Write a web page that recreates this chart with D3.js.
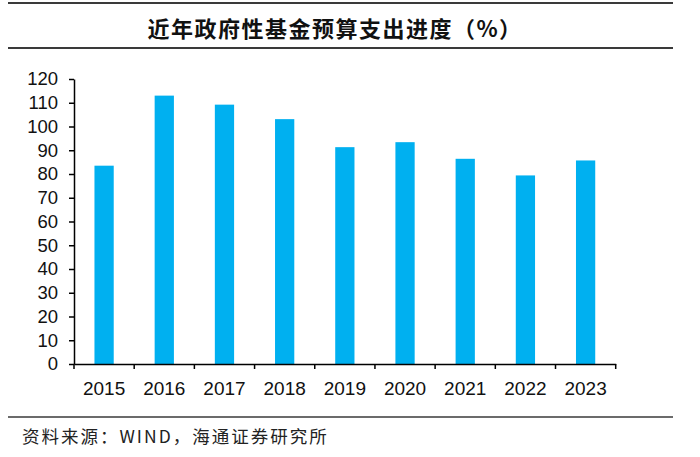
<!DOCTYPE html>
<html><head><meta charset="utf-8">
<script src="https://cdn.jsdelivr.net/npm/d3@7"></script>
<style>body{margin:0;background:#fff}svg{display:block}</style>
</head><body>
<script>
const title = "近年政府性基金预算支出进度（%）";
const source = "资料来源：WIND，海通证券研究所";
const years = ["2015","2016","2017","2018","2019","2020","2021","2022","2023"];
const values = [83.5, 113.0, 109.2, 103.1, 91.3, 93.4, 86.4, 79.4, 85.7];
const yTicks = [0,10,20,30,40,50,60,70,80,90,100,110,120];

const W = 700, H = 457;
const m = {left: 74, right: 615.7, top: 79, bottom: 364};
const svg = d3.select("body").append("svg").attr("width", W).attr("height", H);

// frame lines
const lineColor = "#3a3a3a";
[3, 48, 417].forEach(y => {
  svg.append("line").attr("x1", 8).attr("x2", 673).attr("y1", y).attr("y2", y)
    .attr("stroke", lineColor).attr("stroke-width", y === 417 ? 1.6 : 2);
});

svg.append("text").attr("x", 335).attr("y", 26.5)
  .attr("text-anchor", "middle").attr("dominant-baseline", "central")
  .attr("font-family", "'Noto Sans CJK SC', sans-serif").attr("font-weight", 700)
  .attr("font-size", 22).attr("letter-spacing", 1.5).attr("fill", "#111")
  .text(title);

svg.append("text").attr("x", 22).attr("y", 435)
  .attr("dominant-baseline", "central")
  .attr("font-family", "'Noto Sans CJK SC', sans-serif").attr("font-weight", 400)
  .attr("font-size", 17.5).attr("letter-spacing", 2).attr("fill", "#222")
  .text(source);

const x = d3.scaleBand().domain(years).range([m.left, m.right])
  .paddingInner(0.68).paddingOuter(0.34);
const y = d3.scaleLinear().domain([0, 120]).range([m.bottom, m.top]);

svg.append("g").selectAll("rect").data(years).join("rect")
  .attr("x", d => x(d)).attr("width", x.bandwidth())
  .attr("y", (d, i) => y(values[i])).attr("height", (d, i) => y(0) - y(values[i]))
  .attr("fill", "#00B0F0");

const font = "'Liberation Sans', Arial, sans-serif";

// y axis
const gy = svg.append("g").attr("transform", `translate(${m.left},0)`)
  .call(d3.axisLeft(y).tickValues(yTicks).tickSize(5).tickSizeOuter(0).tickPadding(11));
gy.selectAll("text").attr("font-family", font).attr("font-size", 18.5).attr("fill", "#111");

// x axis labels
const gx = svg.append("g").attr("transform", `translate(0,${m.bottom})`)
  .call(d3.axisBottom(x).tickSize(0).tickSizeOuter(0).tickPadding(17.5));
gx.selectAll("text").attr("font-family", font).attr("font-size", 19).attr("fill", "#111");
// boundary ticks
const bounds = d3.range(years.length + 1).map(i => m.left + i * x.step());
gx.selectAll(".bt").data(bounds).join("line").attr("class", "bt")
  .attr("x1", d => d).attr("x2", d => d).attr("y1", 0).attr("y2", 5)
  .attr("stroke", "#000").attr("stroke-width", 1.5);

svg.selectAll(".domain").attr("stroke", "#000").attr("stroke-width", 1.5);
svg.selectAll(".tick line").attr("stroke", "#000").attr("stroke-width", 1.5);
</script>
</body></html>
